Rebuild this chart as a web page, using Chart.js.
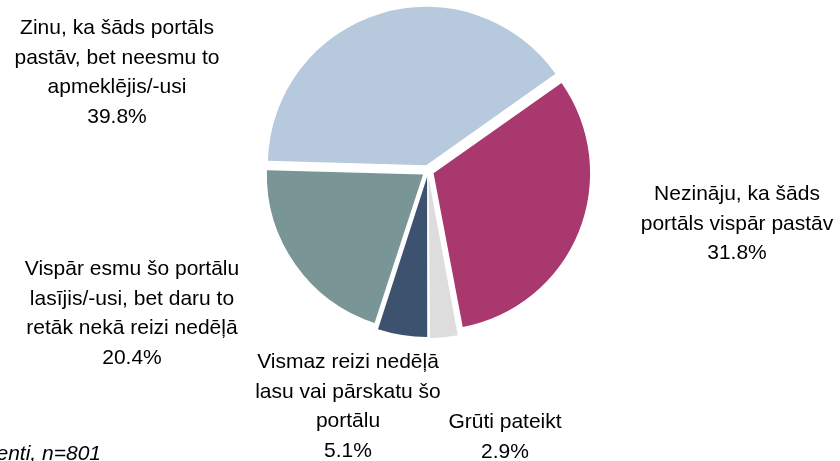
<!DOCTYPE html>
<html>
<head>
<meta charset="utf-8">
<script src="https://cdn.jsdelivr.net/npm/chart.js@4.4.1/dist/chart.umd.min.js"></script>
<style>
    html, body { margin: 0; padding: 0; background: #fff; }
    #pieChart { display: block; }
</style>
</head>
<body>
<canvas id="pieChart" width="840" height="461"></canvas>
<script>
// Data (order clockwise, starting with magenta slice)
const categories = [
    ['Nezināju, ka šāds', 'portāls vispār pastāv'],
    ['Grūti pateikt'],
    ['Vismaz reizi nedēļā', 'lasu vai pārskatu šo', 'portālu'],
    ['Vispār esmu šo portālu', 'lasījis/-usi, bet daru to', 'retāk nekā reizi nedēļā'],
    ['Zinu, ka šāds portāls', 'pastāv, bet neesmu to', 'apmeklējis/-usi']
];
const shares = [31.8, 2.9, 5.1, 20.4, 39.8];
const sliceColors = ['#A9386F', '#DDDDDD', '#3C526F', '#7A9596', '#B6C9DD'];
const footnote = 'Visi respondenti, n=801';

// where each label block sits (center x, first baseline)
const labelPos = [
    { x: 737, y: 200 },
    { x: 505, y: 428 },
    { x: 348, y: 368 },
    { x: 132, y: 275 },
    { x: 117, y: 34 }
];
const lineH = 29.5;

const labelPlugin = {
    id: 'sliceLabels',
    afterDraw(chart) {
        const ctx = chart.ctx;
        ctx.save();
        ctx.fillStyle = '#000';
        ctx.font = '21px "Liberation Sans", Arial, sans-serif';
        ctx.textAlign = 'center';
        ctx.textBaseline = 'alphabetic';
        categories.forEach((lines, i) => {
            const p = labelPos[i];
            const all = lines.concat([shares[i].toFixed(1) + '%']);
            all.forEach((t, j) => ctx.fillText(t, p.x, p.y + j * lineH));
        });
        // footnote, cut at left edge like the source
        ctx.font = 'italic 21px "Liberation Sans", Arial, sans-serif';
        ctx.textAlign = 'right';
        ctx.fillText(footnote, 101, 460);
        ctx.restore();
    }
};

const ctx = document.getElementById('pieChart').getContext('2d');
new Chart(ctx, {
    type: 'pie',
    data: {
        labels: categories.map(l => l.join(' ')),
        datasets: [{
            data: shares,
            backgroundColor: sliceColors,
            borderWidth: 0,
            offset: 24
        }]
    },
    options: {
        responsive: false,
        animation: false,
        rotation: 54.8,
        layout: {
            padding: { left: 260, right: 244, top: 3, bottom: 122 }
        },
        plugins: {
            legend: { display: false },
            tooltip: { enabled: false }
        }
    },
    plugins: [labelPlugin]
});
</script>
</body>
</html>
